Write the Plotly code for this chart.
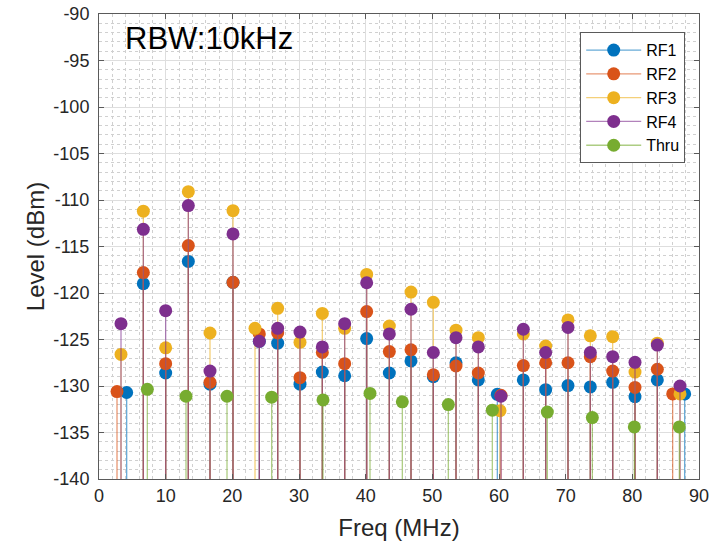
import plotly.graph_objects as go

# stem spectrum, levels (dBm vs MHz)
rf1_freq = [4.15, 6.65, 10.0, 13.4, 16.65, 20.1, 24.05, 26.8, 30.15, 33.5, 36.85, 40.15, 43.55,
            46.8, 50.15, 53.55, 56.9, 59.75, 63.65, 67.0, 70.35, 73.7, 77.05, 80.4, 83.75, 87.85]
rf1_level = [-130.7, -119.0, -128.6, -116.6, -129.8, -118.85, -125.2, -125.4, -129.8, -128.5, -128.9,
             -124.9, -128.6, -127.3, -129.0, -127.5, -129.35, -130.9, -129.35, -130.4, -129.95,
             -130.1, -129.6, -131.15, -129.35, -130.85]

rf2_freq = [2.7, 6.65, 10.0, 13.4, 16.65, 20.1, 24.05, 26.8, 30.15, 33.5, 36.85, 40.15, 43.55,
            46.8, 50.15, 53.55, 56.9, 60.3, 63.65, 67.0, 70.35, 73.7, 77.05, 80.4, 83.75, 86.05]
rf2_level = [-130.6, -117.8, -127.6, -114.9, -129.6, -118.85, -124.4, -124.3, -129.1, -126.4, -127.6,
             -122.0, -126.3, -126.1, -128.8, -127.85, -128.6, -131.0, -127.8, -127.5, -127.5,
             -126.85, -128.4, -130.15, -128.2, -130.85]

rf3_freq = [3.3, 6.65, 10.0, 13.4, 16.65, 20.1, 23.4, 26.8, 30.15, 33.5, 36.85, 40.15, 43.55,
            46.8, 50.15, 53.55, 56.9, 60.15, 63.65, 67.0, 70.35, 73.7, 77.05, 80.4, 83.75, 87.15]
rf3_level = [-126.6, -111.2, -125.9, -109.1, -124.3, -111.15, -123.8, -121.65, -125.3, -122.2, -123.8,
             -118.0, -123.55, -119.9, -121.0, -124.0, -124.8, -132.65, -124.4, -125.7, -122.9,
             -124.6, -124.7, -128.5, -125.4, -130.85]

rf4_freq = [3.3, 6.65, 10.0, 13.4, 16.65, 20.1, 24.05, 26.8, 30.15, 33.5, 36.85, 40.15, 43.55,
            46.8, 50.15, 53.55, 56.9, 60.3, 63.65, 67.0, 70.35, 73.7, 77.05, 80.4, 83.75, 87.15]
rf4_level = [-123.3, -113.15, -121.9, -110.6, -128.4, -113.65, -125.2, -123.8, -124.2, -125.8, -123.3,
             -118.9, -124.4, -121.75, -126.4, -124.8, -125.8, -131.1, -123.9, -126.4, -123.7,
             -126.4, -126.85, -127.45, -125.6, -130.0]

thru_freq = [7.25, 13.05, 19.2, 25.9, 33.6, 40.65, 45.5, 52.4, 59.0, 67.25, 74.0, 80.3, 87.05]
thru_level = [-130.36, -131.1, -131.1, -131.2, -131.5, -130.8, -131.7, -132.0, -132.6, -132.8,
              -133.4, -134.4, -134.4]

# tick labels with a plain hyphen, as MATLAB prints them
x_ticks = [0, 10, 20, 30, 40, 50, 60, 70, 80, 90]
y_ticks = [-140, -135, -130, -125, -120, -115, -110, -105, -100, -95, -90]
y_tick_labels = ["-140", "-135", "-130", "-125", "-120", "-115", "-110", "-105", "-100", "-95", "-90"]

BASE = -140
FONT = "Arial, 'Liberation Sans', Helvetica, sans-serif"

series = [
    ("RF1", rf1_freq, rf1_level, "#0072BD", "rgba(0,114,189,0.6)"),
    ("RF2", rf2_freq, rf2_level, "#D95319", "rgba(217,83,25,0.6)"),
    ("RF3", rf3_freq, rf3_level, "#EDB120", "rgba(237,177,32,0.6)"),
    ("RF4", rf4_freq, rf4_level, "#7E2F8E", "rgba(126,47,142,0.6)"),
    ("Thru", thru_freq, thru_level, "#77AC30", "rgba(119,172,48,0.6)"),
]

fig = go.Figure()
for name, xs, ys, col, stem_col in series:
    # stem = one-sided error bar down to the axis floor
    fig.add_trace(go.Scatter(
        x=xs, y=ys, mode="markers", name=name, showlegend=False,
        marker=dict(size=13, color=col),
        error_y=dict(type="data", symmetric=False, array=[0] * len(ys),
                     arrayminus=[y - BASE for y in ys],
                     color=stem_col, thickness=1.3, width=0),
    ))
for name, xs, ys, col, stem_col in series:
    # legend-only entries (line + marker like MATLAB)
    fig.add_trace(go.Scatter(
        x=[None], y=[None], mode="lines+markers", name=name,
        line=dict(color=stem_col, width=1.3),
        marker=dict(size=13, color=col),
    ))

fig.add_annotation(text="RBW:10kHz", xref="paper", yref="paper", x=0.04, y=0.948,
                   xanchor="left", yanchor="middle", showarrow=False,
                   font=dict(size=31, color="black", family=FONT))

axis_common = dict(
    showline=True, linecolor="#5a5a5a", linewidth=1, mirror="allticks",
    ticks="inside", ticklen=5, tickcolor="#5a5a5a", automargin=False,
    ticklabeloverflow="allow",
    showgrid=True, gridcolor="#dedede", gridwidth=1, zeroline=False,
    tickfont=dict(size=18, color="#262626", family=FONT),
)

fig.update_xaxes(range=[0, 90], tickvals=x_ticks, **axis_common,
                 minor=dict(dtick=2, showgrid=True, gridcolor="#d0d0d0", griddash="dot", ticks=""),
                 title=dict(text="Freq (MHz)", font=dict(size=24, color="#262626", family=FONT),
                            standoff=14))
fig.update_yaxes(range=[-140, -90], tickvals=y_ticks, ticktext=y_tick_labels, **axis_common,
                 ticklabelstandoff=5,
                 minor=dict(dtick=1, showgrid=True, gridcolor="#d0d0d0", griddash="dot", ticks=""),
                 title=dict(text="Level (dBm)", font=dict(size=24, color="#262626", family=FONT),
                            standoff=1))

fig.update_layout(
    width=713, height=544,
    margin=dict(l=99, r=14, t=14, b=65),
    plot_bgcolor="white", paper_bgcolor="white",
    font=dict(family=FONT, color="#262626"),
    legend=dict(x=0.977, y=0.961, xanchor="right", yanchor="top",
                bgcolor="white", bordercolor="#5a5a5a", borderwidth=1,
                itemwidth=55,
                font=dict(size=16, color="black", family=FONT)),
)

# drop the browser's default body margin so the figure sits at the page origin
fig.write_html("out.html", config={"displayModeBar": False},
               post_script="document.body.style.margin='0';document.body.style.overflow='hidden';")
